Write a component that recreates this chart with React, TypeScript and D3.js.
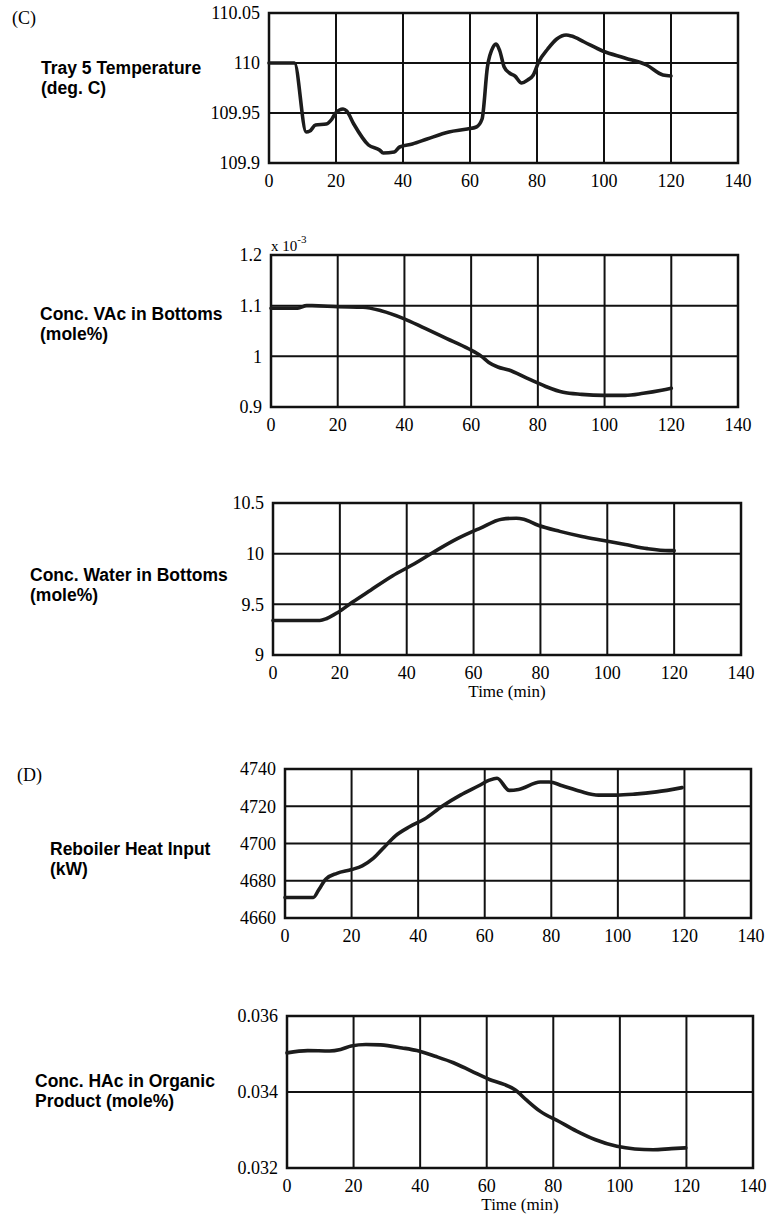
import React, { useEffect, useRef } from "react";
import * as d3 from "d3";

// time axis shared by every panel
const timeTicks = [0, 20, 40, 60, 80, 100, 120, 140];

// (C) tray 5 temperature, deg C
const trayTime = [0, 7.6, 11.1, 12.2, 13.9, 17.1, 18.8, 19.9, 22.1, 23.2, 25.3, 29.7, 33.0, 34.1, 37.4, 39.0, 42.8, 47.2, 53.7, 59.2, 61.9, 63.6, 65.2, 66.9, 67.8, 68.9, 70.2, 71.8, 73.4, 75.4, 77.2, 78.9, 80.5, 83.2, 85.9, 88.7, 90.3, 94.1, 99.6, 106.2, 112.7, 117.6, 120];
const trayTemp = [110.0, 110.0, 109.931, 109.932, 109.938, 109.939, 109.944, 109.95, 109.954, 109.952, 109.939, 109.918, 109.913, 109.91, 109.911, 109.916, 109.919, 109.924, 109.931, 109.934, 109.936, 109.944, 109.996, 110.016, 110.019, 110.012, 109.996, 109.99, 109.987, 109.98, 109.983, 109.988, 110.001, 110.014, 110.024, 110.028, 110.027, 110.021, 110.012, 110.005, 109.998, 109.988, 109.987];
const trayTicks = [109.9, 109.95, 110, 110.05];

// conc. VAc in bottoms (x 1e-3 mole%)
const vacTime = [0, 8, 10.7, 12.3, 20, 27.6, 33, 39.6, 46.2, 52.7, 59.2, 63.1, 65.3, 68, 71.3, 76.7, 82.2, 87.6, 93.1, 99.6, 106.2, 111.6, 117.1, 120];
const vacConc = [1.095, 1.095, 1.1, 1.1, 1.098, 1.097, 1.09, 1.075, 1.055, 1.035, 1.015, 1.0, 0.988, 0.979, 0.973, 0.957, 0.941, 0.929, 0.925, 0.923, 0.923, 0.927, 0.933, 0.937];
const vacTicks = [0.9, 1, 1.1, 1.2];

// conc. water in bottoms (mole%)
const waterTime = [0, 14, 16.1, 19.4, 23.7, 29.2, 35.7, 42.3, 48.8, 55.3, 61.9, 68.4, 72.8, 75, 79.3, 85.8, 92.4, 98.9, 105.4, 112, 118.5, 120];
const waterConc = [9.34, 9.34, 9.36, 9.42, 9.52, 9.64, 9.78, 9.9, 10.03, 10.15, 10.25, 10.34, 10.35, 10.34, 10.28, 10.22, 10.17, 10.13, 10.09, 10.05, 10.03, 10.03];
const waterTicks = [9, 9.5, 10, 10.5];

// (D) reboiler heat input, kW
const rebTime = [0, 8.5, 10.1, 12.3, 15.6, 20, 23.2, 26.5, 29.8, 33.1, 37.4, 41.8, 47.2, 52.7, 58.2, 61.4, 63.7, 67.4, 70.2, 76.7, 79.4, 83.3, 88.7, 94.2, 99.6, 105, 111.6, 119.3];
const rebHeat = [4671, 4671, 4675, 4681, 4684, 4686, 4688, 4692, 4698, 4704, 4709, 4713, 4720, 4726, 4731, 4734, 4735, 4728.5, 4729, 4733, 4733, 4731, 4728, 4726, 4726, 4726.5, 4727.7, 4730];
const rebTicks = [4660, 4680, 4700, 4720, 4740];

// conc. HAc in organic product (mole%)
const hacTime = [0, 6.2, 12.8, 16.1, 19.3, 23.7, 28.1, 34.6, 39, 44.5, 50, 55.4, 60.8, 65.2, 68.5, 71.8, 76.1, 81.6, 87, 92.5, 99.1, 104.5, 110, 115.5, 119.8];
const hacConc = [0.03503, 0.03509, 0.03508, 0.03512, 0.03521, 0.03525, 0.03524, 0.03516, 0.03509, 0.03494, 0.03477, 0.03455, 0.03433, 0.0342, 0.03406, 0.0338, 0.03349, 0.03323, 0.03297, 0.03275, 0.03257, 0.0325, 0.03248, 0.03251, 0.03253];
const hacTicks = [0.032, 0.034, 0.036];

const panels = [
  { time: trayTime, values: trayTemp, ticks: trayTicks, box: [269, 738, 13, 163], label: ["Tray 5 Temperature", "(deg. C)"], lx: 41, ly: 74 },
  { time: vacTime, values: vacConc, ticks: vacTicks, box: [271, 738, 255, 407], label: ["Conc. VAc in Bottoms", "(mole%)"], lx: 40, ly: 320, exp: true },
  { time: waterTime, values: waterConc, ticks: waterTicks, box: [273, 741, 503, 655], label: ["Conc. Water in Bottoms", "(mole%)"], lx: 30, ly: 581, xTitle: true },
  { time: rebTime, values: rebHeat, ticks: rebTicks, box: [285, 751, 769, 918], label: ["Reboiler Heat Input", "(kW)"], lx: 50, ly: 855 },
  { time: hacTime, values: hacConc, ticks: hacTicks, box: [287, 753, 1016, 1168], label: ["Conc. HAc in Organic", "Product (mole%)"], lx: 35, ly: 1087, xTitle: true }
];

const serif = "'Liberation Serif', 'Times New Roman', serif";
const sans = "'Liberation Sans', Arial, sans-serif";

const drawCharts = (node: SVGSVGElement) => {
  const svg = d3.select(node);
  svg.selectAll("*").remove();

  svg.append("rect").attr("width", 771).attr("height", 1214).attr("fill", "#fff");

  svg.append("text").attr("x", 12).attr("y", 24).attr("font-family", serif).attr("font-size", 18).text("(C)");
  svg.append("text").attr("x", 17).attr("y", 781).attr("font-family", serif).attr("font-size", 18).text("(D)");

  panels.forEach(p => {
    const [left, right, top, bottom] = p.box;
    const x = d3.scaleLinear().domain([0, 140]).range([left, right]);
    const y = d3
      .scaleLinear()
      .domain([p.ticks[0], p.ticks[p.ticks.length - 1]])
      .range([bottom, top]);

    const g = svg.append("g");

    g.selectAll(".vgrid")
      .data(timeTicks.slice(1, -1))
      .enter()
      .append("line")
      .attr("x1", d => x(d))
      .attr("x2", d => x(d))
      .attr("y1", top)
      .attr("y2", bottom)
      .attr("stroke", "#111")
      .attr("stroke-width", 2);

    g.selectAll(".hgrid")
      .data(p.ticks.slice(1, -1))
      .enter()
      .append("line")
      .attr("x1", left)
      .attr("x2", right)
      .attr("y1", d => y(d))
      .attr("y2", d => y(d))
      .attr("stroke", "#111")
      .attr("stroke-width", 2);

    g.append("rect")
      .attr("x", left)
      .attr("y", top)
      .attr("width", right - left)
      .attr("height", bottom - top)
      .attr("fill", "none")
      .attr("stroke", "#111")
      .attr("stroke-width", 2.5);

    const line = d3
      .line<number>()
      .x((d, i) => x(p.time[i]))
      .y(d => y(d))
      .curve(d3.curveMonotoneX);

    g.append("path")
      .attr("d", line(p.values))
      .attr("fill", "none")
      .attr("stroke", "#1c1c1c")
      .attr("stroke-width", 3.6)
      .attr("stroke-linejoin", "round")
      .attr("stroke-linecap", "round");

    g.selectAll(".ylab")
      .data(p.ticks)
      .enter()
      .append("text")
      .attr("x", left - 9)
      .attr("y", d => y(d))
      .attr("dy", "0.35em")
      .attr("text-anchor", "end")
      .attr("font-family", serif)
      .attr("font-size", 18)
      .text(d => String(d));

    g.selectAll(".xlab")
      .data(timeTicks)
      .enter()
      .append("text")
      .attr("x", d => x(d))
      .attr("y", bottom + 24)
      .attr("text-anchor", "middle")
      .attr("font-family", serif)
      .attr("font-size", 18)
      .text(d => String(d));

    p.label.forEach((t, i) => {
      g.append("text")
        .attr("x", p.lx)
        .attr("y", p.ly + i * 20)
        .attr("font-family", sans)
        .attr("font-weight", "bold")
        .attr("font-size", 17.5)
        .text(t);
    });

    if (p.exp) {
      const e = g.append("text").attr("x", left).attr("y", top - 4).attr("font-family", serif).attr("font-size", 15);
      e.append("tspan").text("x 10");
      e.append("tspan").attr("dy", -8).attr("font-size", 11).text("-3");
    }

    if (p.xTitle) {
      g.append("text")
        .attr("x", (left + right) / 2)
        .attr("y", bottom + 42)
        .attr("text-anchor", "middle")
        .attr("font-family", serif)
        .attr("font-size", 17)
        .text("Time (min)");
    }
  });
};

function App() {
  const ref = useRef<SVGSVGElement>(null);

  useEffect(() => {
    if (ref.current) drawCharts(ref.current);
  }, []);

  return (
    <svg
      ref={ref}
      width={771}
      height={1214}
      style={{ position: "absolute", left: 0, top: 0 }}
    />
  );
}

export default App;
